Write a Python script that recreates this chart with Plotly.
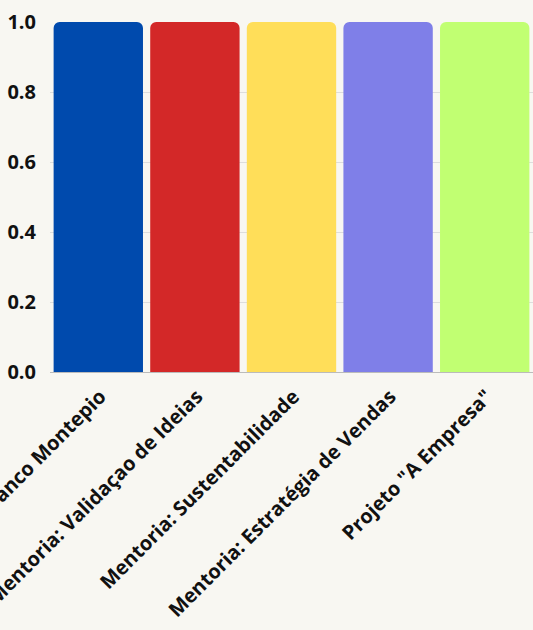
import plotly.graph_objects as go

categories = ["Banco Montepio", "Mentoria: Validaçao de Ideias", "Mentoria: Sustentabilidade",
              "Mentoria: Estratégia de Vendas", "Projeto \"A Empresa\""]
values = [1, 1, 1, 1, 1]
colors = ["#004AAD", "#D32828", "#FFDE59", "#7F7FE8", "#C1FF72"]
y_ticks = [0.0, 0.2, 0.4, 0.6, 0.8, 1.0]

fig = go.Figure(go.Bar(x=categories, y=values, marker=dict(color=colors, line=dict(width=0))))

fig.update_layout(
    width=533, height=630,
    paper_bgcolor="#F8F7F2", plot_bgcolor="#F8F7F2",
    margin=dict(l=50, r=0, t=22, b=258),
    bargap=0.075,
    barcornerradius=6,
    font=dict(family="Open Sans", size=20, color="#111111"),
    showlegend=False,
)
fig.update_xaxes(tickangle=-45, tickfont=dict(family="Open Sans", size=20, weight="bold"),
                 ticklabelshift=2, ticklabelstandoff=4,
                 automargin=False, showline=True, linecolor="#BBBBBB", linewidth=1, ticks="")
fig.update_yaxes(range=[0, 1.0], tickvals=y_ticks, ticktext=[f"{v:.1f}" for v in y_ticks],
                 tickfont=dict(family="Open Sans", size=20, weight="bold"),
                 ticklabelstandoff=13,
                 gridcolor="#DDDDDD", zeroline=False, automargin=False, ticks="")

fig.write_html("out.html", config={"displayModeBar": False},
               post_script="document.body.style.margin='0';document.body.style.background='#F8F7F2';")
